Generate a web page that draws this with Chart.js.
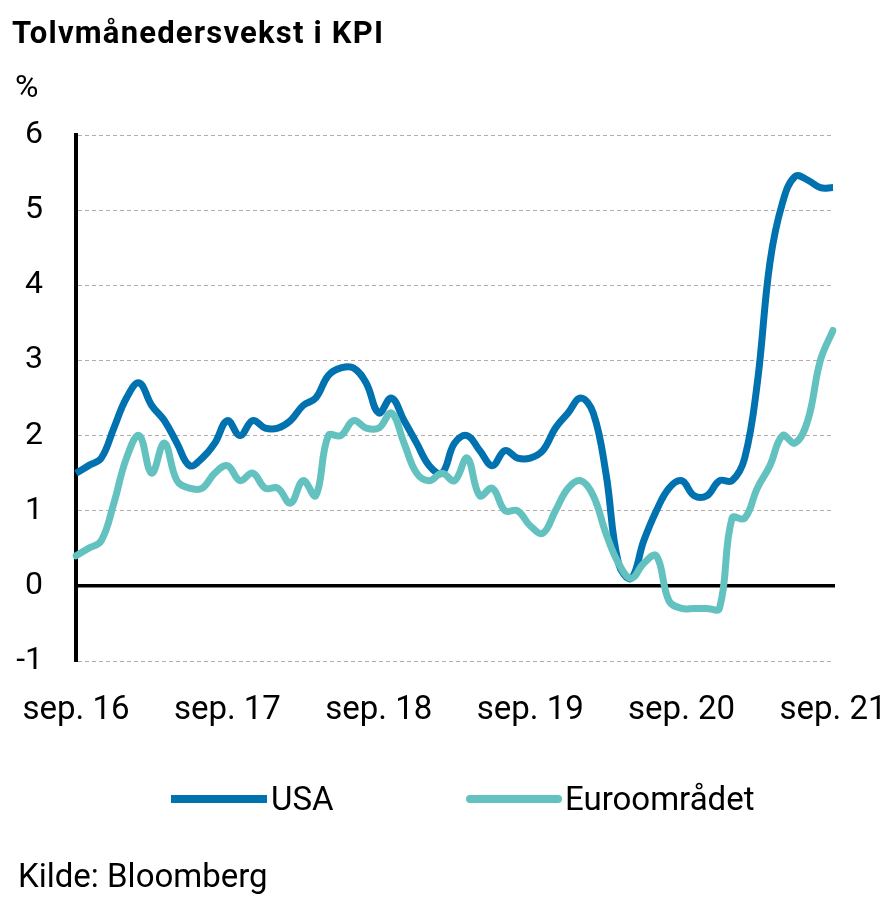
<!DOCTYPE html>
<html>
<head>
<meta charset="utf-8">
<script src="https://cdn.jsdelivr.net/npm/chart.js@4"></script>
<style>
  body { margin: 0; background: #fff; font-family: Roboto, sans-serif; color: #000; }
  #wrap { position: relative; width: 891px; height: 915px; }
  #chart { position: absolute; left: 0; top: 0; }
  .txt { position: absolute; line-height: 1; white-space: nowrap; }
  #title { left: 12px; top: 17px; font-size: 31px; font-weight: bold; letter-spacing: 1.2px; }
  #unit { left: 15px; top: 70px; font-size: 32px; }
  #source { left: 18px; top: 859px; font-size: 33px; }
  .legline { position: absolute; height: 8px; }
</style>
</head>
<body>
<div id="wrap">
  <canvas id="chart" width="891" height="915"></canvas>
  <div class="txt" id="title">Tolvmånedersvekst i KPI</div>
  <div class="txt" id="unit">%</div>
  <div class="legline" style="left:171px; top:795px; width:96px; background:#0072b0;"></div>
  <div class="txt" style="left:271px; top:782px; font-size:33px;">USA</div>
  <div class="legline" style="left:466px; top:795px; width:96px; background:#63c2bf; border-radius:4px;"></div>
  <div class="txt" style="left:565px; top:782px; font-size:33px;">Euroområdet</div>
  <div class="txt" id="source">Kilde: Bloomberg</div>
</div>
<script>
// månedlige observasjoner sep. 2016 - sep. 2021
var monthNames = ['jan.', 'feb.', 'mar.', 'apr.', 'mai', 'jun.', 'jul.', 'aug.', 'sep.', 'okt.', 'nov.', 'des.'];
var firstYear = 16;
var firstMonth = 8; // sep.

var usa = [
    1.5, 1.6, 1.7, 2.1,
    2.5, 2.7, 2.4, 2.2, 1.9, 1.6, 1.7, 1.9, 2.2, 2.0, 2.2, 2.1,
    2.1, 2.2, 2.4, 2.5, 2.8, 2.9, 2.9, 2.7, 2.3, 2.5, 2.2, 1.9,
    1.6, 1.5, 1.9, 2.0, 1.8, 1.6, 1.8, 1.7, 1.7, 1.8, 2.1, 2.3,
    2.5, 2.3, 1.5, 0.3, 0.1, 0.6, 1.0, 1.3, 1.4, 1.2, 1.2, 1.4,
    1.4, 1.7, 2.7, 4.3, 5.1, 5.45, 5.4, 5.3, 5.3
];

var euro = [
    0.4, 0.5, 0.6, 1.1,
    1.7, 2.0, 1.5, 1.9, 1.4, 1.3, 1.3, 1.5, 1.6, 1.4, 1.5, 1.3,
    1.3, 1.1, 1.4, 1.2, 2.0, 2.0, 2.2, 2.1, 2.1, 2.3, 1.9, 1.5,
    1.4, 1.5, 1.4, 1.7, 1.2, 1.3, 1.0, 1.0, 0.8, 0.7, 1.0, 1.3,
    1.4, 1.2, 0.7, 0.3, 0.1, 0.3, 0.4, -0.2, -0.3, -0.3, -0.3, -0.3,
    0.9, 0.9, 1.3, 1.6, 2.0, 1.9, 2.2, 3.0, 3.4
];

var yTicks = [-1, 0, 1, 2, 3, 4, 5, 6];

var labels = [];
for (var i = 0; i < usa.length; i++) {
    var m = (firstMonth + i) % 12;
    var y = firstYear + Math.floor((firstMonth + i) / 12);
    labels.push(monthNames[m] + ' ' + y);
}

// svart nullinje tegnes under linjene
var zeroLine = {
    id: 'zeroLine',
    beforeDatasetsDraw: function(chart) {
        var ctx = chart.ctx;
        var area = chart.chartArea;
        var y0 = chart.scales.y.getPixelForValue(0);
        ctx.save();
        ctx.strokeStyle = '#000';
        ctx.lineWidth = 3.5;
        ctx.beginPath();
        ctx.moveTo(area.left, y0);
        ctx.lineTo(area.right + 2, y0);
        ctx.stroke();
        ctx.restore();
    }
};

var ctx = document.getElementById('chart').getContext('2d');
var myChart = new Chart(ctx, {
    type: 'line',
    data: {
        labels: labels,
        datasets: [{
            label: 'USA',
            data: usa,
            borderColor: '#0072b0',
            borderWidth: 7,
            pointRadius: 0,
            tension: 0.4,
            borderJoinStyle: 'round',
            order: 2
        }, {
            label: 'Euroområdet',
            data: euro,
            borderColor: '#63c2bf',
            borderWidth: 7,
            pointRadius: 0,
            tension: 0.4,
            borderCapStyle: 'round',
            borderJoinStyle: 'round',
            order: 1
        }]
    },
    options: {
        responsive: false,
        animation: false,
        layout: {
            padding: { left: 0, top: 135, right: 58, bottom: 184 }
        },
        plugins: {
            legend: { display: false },
            tooltip: { enabled: false }
        },
        scales: {
            x: {
                offset: false,
                grid: { display: false },
                border: { display: false },
                afterFit: function(scale) {
                    scale.height = 70;
                    scale.paddingLeft = 0;
                    scale.paddingRight = 0;
                },
                ticks: {
                    autoSkip: false,
                    maxRotation: 0,
                    minRotation: 0,
                    padding: 22,
                    color: '#000',
                    font: { family: 'Roboto', size: 33 },
                    callback: function(value, index) {
                        return index % 12 === 0 ? labels[index] : '';
                    }
                }
            },
            y: {
                min: -1,
                max: 6,
                afterFit: function(scale) { scale.width = 76; },
                afterBuildTicks: function(scale) {
                    scale.ticks = yTicks.map(function(v) { return { value: v }; });
                },
                grid: {
                    drawTicks: false,
                    lineWidth: 1,
                    color: function(c) {
                        return c.tick && c.tick.value === 0 ? 'rgba(0,0,0,0)' : '#b3aca9';
                    }
                },
                border: { display: true, color: '#000', width: 4, dash: [4, 3] },
                ticks: {
                    padding: 33,
                    color: '#000',
                    font: { family: 'Roboto', size: 32 }
                }
            }
        }
    },
    plugins: [zeroLine]
});
</script>
</body>
</html>
